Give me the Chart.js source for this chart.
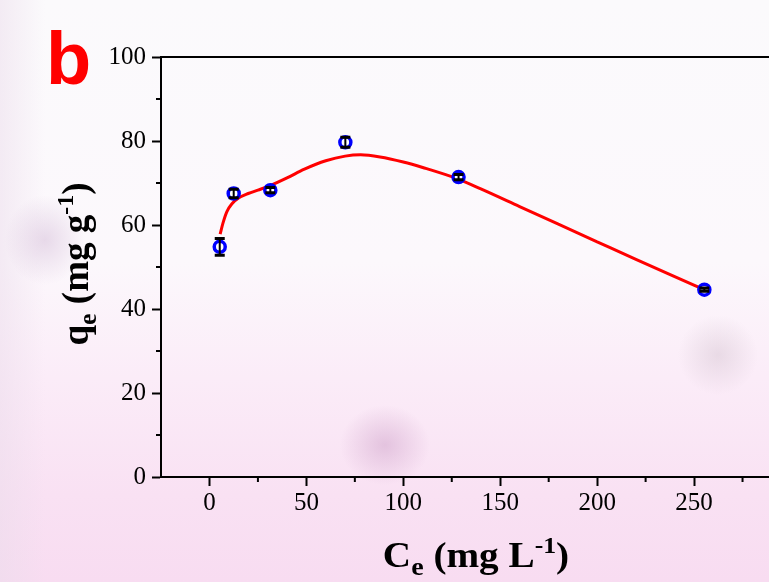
<!DOCTYPE html>
<html>
<head>
<meta charset="utf-8">
<script src="https://cdn.jsdelivr.net/npm/chart.js@4.4.1/dist/chart.umd.min.js"></script>
<style>
  html, body {
    margin: 0;
    width: 769px;
    height: 582px;
    overflow: hidden;
  }
  body {
    background:
      radial-gradient(ellipse 45px 40px at 385px 445px, rgba(205, 160, 200, 0.5), rgba(205, 160, 200, 0)),
      radial-gradient(ellipse 40px 45px at 45px 240px, rgba(200, 170, 205, 0.4), rgba(200, 170, 205, 0)),
      radial-gradient(ellipse 40px 40px at 718px 355px, rgba(190, 170, 185, 0.3), rgba(190, 170, 185, 0)),
      linear-gradient(to right, rgba(235, 220, 235, 0.5) 0px, rgba(235, 220, 235, 0) 45px),
      linear-gradient(to bottom, #fbfafc 0%, #fcf8fc 45%, #fbecf8 65%, #f9e1f3 85%, #f8dcf1 100%);
  }
  #c { display: block; }
</style>
</head>
<body>
<canvas id="c" width="800" height="582"></canvas>
<script>
// measured points (Ce, qe) with error bars
const ceValues = [5.3, 12.5, 31.4, 70.1, 128.5, 255.3];
const qeValues = [54.8, 67.5, 68.3, 79.7, 71.4, 44.6];
const qeErrors = [2.0, 1.0, 0.6, 1.2, 0.6, 0.4];

// fitted curve
const fitCe = [5.5, 7, 9, 11.5, 15, 20, 25, 31, 40, 49, 60, 70, 78, 88, 100, 110, 128, 140, 160, 180, 200, 220, 240, 255.3];
const fitQe = [57.8, 60.5, 63.2, 65.0, 66.4, 67.5, 68.3, 69.3, 71.2, 73.3, 75.3, 76.4, 76.7, 76.2, 75.0, 73.7, 71.0, 68.6, 64.4, 60.2, 56.0, 51.8, 47.7, 44.6];

const xTickValues = [0, 50, 100, 150, 200, 250];
const xMinorTicks = [25, 75, 125, 175, 225, 275];
const yMinorTicks = [10, 30, 50, 70, 90];

const serif = '"Liberation Serif", "Times New Roman", serif';

function drawRich(ctx, parts, cx, baseY) {
  let total = 0;
  parts.forEach(p => {
    ctx.font = 'bold ' + p.size + 'px ' + serif;
    p.w = ctx.measureText(p.t).width;
    total += p.w;
  });
  let x = cx - total / 2;
  ctx.textAlign = 'left';
  ctx.textBaseline = 'alphabetic';
  parts.forEach(p => {
    ctx.font = 'bold ' + p.size + 'px ' + serif;
    ctx.fillText(p.t, x, baseY + (p.dy || 0));
    x += p.w;
  });
}

const extras = {
  id: 'extras',
  afterDatasetsDraw(chart) {
    const ctx = chart.ctx;
    const xs = chart.scales.x, ys = chart.scales.y;
    // error bars
    ctx.save();
    ctx.strokeStyle = '#000';
    ceValues.forEach((ce, i) => {
      const px = xs.getPixelForValue(ce);
      const top = ys.getPixelForValue(qeValues[i] + qeErrors[i]);
      const bot = ys.getPixelForValue(qeValues[i] - qeErrors[i]);
      ctx.lineWidth = 2;
      ctx.beginPath();
      ctx.moveTo(px, top);
      ctx.lineTo(px, bot);
      ctx.stroke();
      ctx.lineWidth = 3;
      ctx.beginPath();
      ctx.moveTo(px - 5, top);
      ctx.lineTo(px + 5, top);
      ctx.moveTo(px - 5, bot);
      ctx.lineTo(px + 5, bot);
      ctx.stroke();
    });
    ctx.restore();
  },
  afterDraw(chart) {
    const ctx = chart.ctx;
    const a = chart.chartArea;
    const xs = chart.scales.x, ys = chart.scales.y;
    ctx.save();
    ctx.strokeStyle = '#000';
    ctx.lineWidth = 2;
    // top frame line
    ctx.beginPath();
    ctx.moveTo(a.left - 1, a.top);
    ctx.lineTo(a.right, a.top);
    ctx.stroke();
    // minor ticks
    ctx.beginPath();
    xMinorTicks.forEach(v => {
      const px = xs.getPixelForValue(v);
      ctx.moveTo(px, a.bottom);
      ctx.lineTo(px, a.bottom + 5);
    });
    yMinorTicks.forEach(v => {
      const py = ys.getPixelForValue(v);
      ctx.moveTo(a.left, py);
      ctx.lineTo(a.left - 5, py);
    });
    ctx.stroke();

    // axis titles
    ctx.fillStyle = '#000';
    ctx.save();
    ctx.translate(476, 567);
    ctx.scale(1.12, 1);
    drawRich(ctx, [
      { t: 'C', size: 35 },
      { t: 'e', size: 25, dy: 8 },
      { t: ' (mg L', size: 35 },
      { t: '-1', size: 23, dy: -14 },
      { t: ')', size: 35 }
    ], 0, 0);
    ctx.restore();

    ctx.save();
    ctx.translate(88, 264);
    ctx.rotate(-Math.PI / 2);
    drawRich(ctx, [
      { t: 'q', size: 37 },
      { t: 'e', size: 26, dy: 8 },
      { t: ' (mg g', size: 37 },
      { t: '-1', size: 24, dy: -15 },
      { t: ')', size: 37 }
    ], 0, 0);
    ctx.restore();

    // panel letter
    ctx.fillStyle = '#ff0000';
    ctx.font = 'bold 74px "Liberation Sans", Arial, sans-serif';
    ctx.textAlign = 'left';
    ctx.textBaseline = 'alphabetic';
    ctx.fillText('b', 46, 84);
    ctx.restore();
  }
};

const tickFont = { family: serif, size: 25 };

new Chart(document.getElementById('c'), {
  type: 'scatter',
  data: {
    datasets: [
      {
        label: 'qe',
        data: ceValues.map((x, i) => ({ x: x, y: qeValues[i] })),
        pointRadius: 5.5,
        pointBorderWidth: 3.5,
        pointBorderColor: '#0000ff',
        pointBackgroundColor: '#ffffff',
        showLine: false,
        order: 0
      },
      {
        label: 'fit',
        data: fitCe.map((x, i) => ({ x: x, y: fitQe[i] })),
        showLine: true,
        borderColor: '#ff0000',
        borderWidth: 3,
        pointRadius: 0,
        cubicInterpolationMode: 'monotone',
        order: 1
      }
    ]
  },
  options: {
    responsive: false,
    devicePixelRatio: 1,
    animation: false,
    layout: { padding: { top: 57, right: 5, left: 0, bottom: 0 } },
    plugins: {
      legend: { display: false },
      tooltip: { enabled: false }
    },
    scales: {
      x: {
        type: 'linear',
        min: -25,
        max: 300,
        afterFit(s) { s.height = 105; },
        afterBuildTicks(s) {
          s.ticks = xTickValues.map(v => ({ value: v }));
        },
        ticks: { stepSize: 50, color: '#000', font: tickFont, padding: 2, maxRotation: 0, autoSkip: false },
        grid: { drawOnChartArea: false, drawTicks: true, tickLength: 9, tickColor: '#000', tickWidth: 2 },
        border: { display: true, color: '#000', width: 2 }
      },
      y: {
        min: 0,
        max: 100,
        afterFit(s) { s.width = 161; },
        ticks: { stepSize: 20, color: '#000', font: tickFont, padding: 6 },
        grid: { drawOnChartArea: false, drawTicks: true, tickLength: 9, tickColor: '#000', tickWidth: 2 },
        border: { display: true, color: '#000', width: 2 }
      }
    }
  },
  plugins: [extras]
});
</script>
</body>
</html>
